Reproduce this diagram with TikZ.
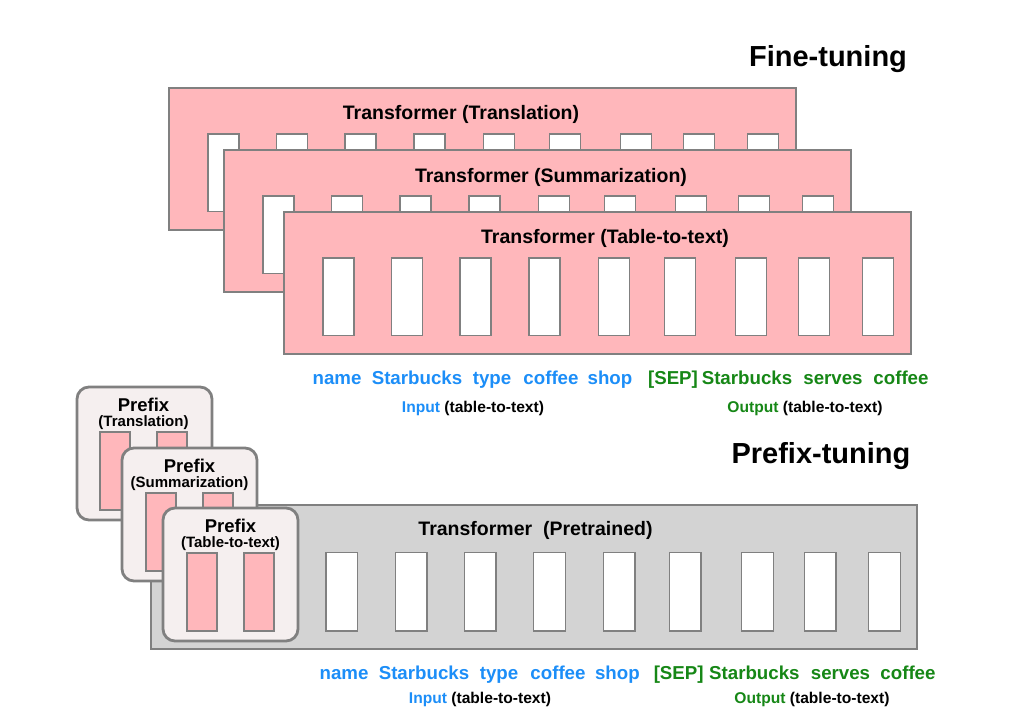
\documentclass[tikz,border=0pt]{standalone}
\usepackage{fontspec}
\setmainfont{Liberation Sans}
\definecolor{pinkfill}{RGB}{255,183,187}
\definecolor{grayfill}{RGB}{211,211,211}
\definecolor{prefill}{RGB}{245,239,239}
\definecolor{edge}{RGB}{128,128,128}
\definecolor{inblue}{RGB}{28,142,248}
\definecolor{outgreen}{RGB}{22,135,22}
\tikzset{
  tbox/.style={draw=edge, line width=2.4pt, fill=pinkfill, minimum width=627pt, minimum height=142pt, anchor=north west, inner sep=0pt, outer sep=0pt},
  gbox/.style={draw=edge, line width=2.4pt, fill=grayfill, minimum width=766pt, minimum height=144pt, anchor=north west, inner sep=0pt, outer sep=0pt},
  pbox/.style={draw=edge, line width=2.8pt, fill=prefill, rounded corners=12pt, minimum width=135pt, minimum height=133pt, anchor=north west, inner sep=0pt, outer sep=0pt},
  tok/.style={draw=edge, line width=1.4pt, fill=white, minimum width=31pt, minimum height=77.5pt, anchor=north west, inner sep=0pt, outer sep=0pt},
  ptok/.style={draw=edge, line width=1.4pt, fill=pinkfill, minimum width=30pt, minimum height=78pt, anchor=north west, inner sep=0pt, outer sep=0pt},
  ttl/.style={font=\fontsize{19.5}{22}\selectfont\bfseries, inner sep=0pt},
  big/.style={font=\fontsize{29}{32}\selectfont\bfseries, inner sep=0pt},
  wrd/.style={font=\fontsize{18.7}{21}\selectfont\bfseries, inner sep=0pt, anchor=base},
  lbl/.style={font=\fontsize{15.6}{18}\selectfont\bfseries, inner sep=0pt, anchor=base},
  pfx/.style={font=\fontsize{18.5}{20}\selectfont\bfseries, inner sep=0pt, anchor=base},
  pfs/.style={font=\fontsize{15}{17}\selectfont\bfseries, inner sep=0pt, anchor=base},
}
\begin{document}
\begin{tikzpicture}[x=1pt,y=-1pt]
\useasboundingbox (0,0) rectangle (1013,712);
\fill[white] (0,0) rectangle (1013,712);

% ---------- Fine-tuning ----------
\node[big] (ftitle) at (828,59) {Fine-tuning};

\node[tbox] (ft1) at (169,88) {};
\foreach \o [count=\i] in {39,107.5,176,245,314.3,380.3,451.7,514.7,578.3}
  \node[tok] (a\i) at ([xshift=\o pt, yshift=-46pt]ft1.north west) {};
\node[ttl] (ft1t) at (461,114) {Transformer (Translation)};

\node[tbox] (ft2) at (224,150) {};
\foreach \o [count=\i] in {39,107.5,176,245,314.3,380.3,451.7,514.7,578.3}
  \node[tok] (b\i) at ([xshift=\o pt, yshift=-46pt]ft2.north west) {};
\node[ttl] (ft2t) at (551,177) {Transformer (Summarization)};

\node[tbox] (ft3) at (284,212) {};
\foreach \o [count=\i] in {39,107.5,176,245,314.3,380.3,451.7,514.7,578.3}
  \node[tok] (c\i) at ([xshift=\o pt, yshift=-46pt]ft3.north west) {};
\node[ttl] (ft3t) at (605,238) {Transformer (Table-to-text)};

% words (fine-tuning)
\node[wrd, text=inblue] (w1) at (337,384) {name};
\node[wrd, text=inblue] (w2) at (417,384) {Starbucks};
\node[wrd, text=inblue] (w3) at (492,384) {type};
\node[wrd, text=inblue] (w4) at (551,384) {coffee};
\node[wrd, text=inblue] (w5) at (610,384) {shop};
\node[wrd, text=outgreen] (w6) at (673,384) {[SEP]};
\node[wrd, text=outgreen] (w7) at (747,384) {Starbucks};
\node[wrd, text=outgreen] (w8) at (833,384) {serves};
\node[wrd, text=outgreen] (w9) at (901,384) {coffee};
\node[lbl] (inl1) at (473,412) {\textcolor{inblue}{Input} (table-to-text)};
\node[lbl] (outl1) at (805,412) {\textcolor{outgreen}{Output} (table-to-text)};

% ---------- Prefix-tuning ----------
\node[big] (ptitle) at (821,456) {Prefix-tuning};

\node[gbox] (pt) at (151,505) {};
\foreach \x [count=\i] in {326,395.3,464.3,533.7,603.3,669.3,741.7,804.3,868.7}
  \node[tok, minimum width=31.5pt, minimum height=78.5pt] (d\i) at (\x,552.3) {};
\node[ttl] (ptt) at (535.5,530) {Transformer\ \ (Pretrained)};

\node[pbox] (p1) at (77,387) {};
\node[ptok] (p1a) at ([xshift=23pt, yshift=-45pt]p1.north west) {};
\node[ptok] (p1b) at ([xshift=80pt, yshift=-45pt]p1.north west) {};
\node[pfx] (p1t) at (143.5,411) {Prefix};
\node[pfs] (p1s) at (143.5,426) {(Translation)};

\node[pbox] (p2) at (122,448) {};
\node[ptok] (p2a) at ([xshift=24pt, yshift=-45pt]p2.north west) {};
\node[ptok] (p2b) at ([xshift=81pt, yshift=-45pt]p2.north west) {};
\node[pfx] (p2t) at (189.5,472) {Prefix};
\node[pfs] (p2s) at (189.5,487) {(Summarization)};

\node[pbox] (p3) at (163,508) {};
\node[ptok] (p3a) at ([xshift=24pt, yshift=-45pt]p3.north west) {};
\node[ptok] (p3b) at ([xshift=81pt, yshift=-45pt]p3.north west) {};
\node[pfx] (p3t) at (230.5,532) {Prefix};
\node[pfs] (p3s) at (230.5,547) {(Table-to-text)};

% words (prefix-tuning)
\node[wrd, text=inblue] (v1) at (344,679) {name};
\node[wrd, text=inblue] (v2) at (424,679) {Starbucks};
\node[wrd, text=inblue] (v3) at (499,679) {type};
\node[wrd, text=inblue] (v4) at (558,679) {coffee};
\node[wrd, text=inblue] (v5) at (617.4,679) {shop};
\node[wrd, text=outgreen] (v6) at (678.7,679) {[SEP]};
\node[wrd, text=outgreen] (v7) at (754.4,679) {Starbucks};
\node[wrd, text=outgreen] (v8) at (840.5,679) {serves};
\node[wrd, text=outgreen] (v9) at (908,679) {coffee};
\node[lbl] (inl2) at (480,703) {\textcolor{inblue}{Input} (table-to-text)};
\node[lbl] (outl2) at (812,703) {\textcolor{outgreen}{Output} (table-to-text)};
\end{tikzpicture}
\end{document}
